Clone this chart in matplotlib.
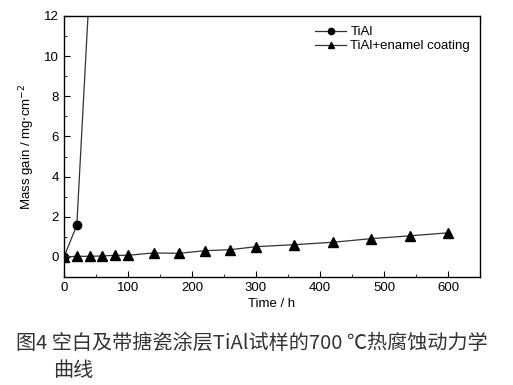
import matplotlib.pyplot as plt
from matplotlib.ticker import MultipleLocator

# TiAl (uncoated) - third point runs off the top of the axes
t_tial = [0, 20, 40]
m_tial = [0, 1.58, 13.5]

# TiAl + enamel coating
t_coat = [0, 20, 40, 60, 80, 100, 140, 180, 220, 260, 300, 360, 420, 480, 540, 600]
m_coat = [0, 0.03, 0.03, 0.05, 0.08, 0.08, 0.2, 0.18, 0.31, 0.36, 0.51, 0.61, 0.73, 0.91, 1.05, 1.2]

plt.rcParams['font.family'] = ['Liberation Sans', 'DejaVu Sans']

fig = plt.figure(figsize=(5.13, 3.85), dpi=100)
ax = fig.add_axes([64 / 513, 1 - 277 / 385, 416 / 513, 261 / 385])

ax.plot(t_tial, m_tial, color='#333333', lw=0.9, marker='o', ms=6,
        mfc='black', mec='black', label='TiAl')
ax.plot(t_coat, m_coat, color='#333333', lw=0.9, marker='^', ms=6.5,
        mfc='black', mec='black', label='TiAl+enamel coating')

ax.set_xlim(0, 650)
ax.set_ylim(-1, 12)
ax.xaxis.set_major_locator(MultipleLocator(100))
ax.xaxis.set_minor_locator(MultipleLocator(50))
ax.yaxis.set_major_locator(MultipleLocator(2))
ax.yaxis.set_minor_locator(MultipleLocator(1))
ax.tick_params(which='both', direction='in', labelsize=9.5, top=False, right=False)
ax.tick_params(which='major', length=4)
ax.tick_params(which='minor', length=2.5)
for s in ax.spines.values():
    s.set_linewidth(1.0)

ax.set_xlabel('Time / h', fontsize=9.5, labelpad=3)
ax.set_ylabel('Mass gain / mg$\\cdot$cm$^{-2}$', fontsize=9.5, labelpad=5)

ax.legend(loc='upper right', frameon=False, fontsize=9.5, handlelength=2.4,
          handletextpad=0.3, labelspacing=0.15, borderaxespad=0.35,
          markerscale=0.75)

cjk = ['Noto Sans CJK SC', 'DejaVu Sans']
fig.text(16 / 513, 1 - 343 / 385, '图4 空白及带搪瓷涂层TiAl试样的700 ℃热腐蚀动力学',
         fontsize=14.5, family=cjk, color='#333333', va='center', ha='left')
fig.text(53 / 513, 1 - 370 / 385, '曲线',
         fontsize=14.5, family=cjk, color='#333333', va='center', ha='left')

fig.savefig('out.png', dpi=100)
